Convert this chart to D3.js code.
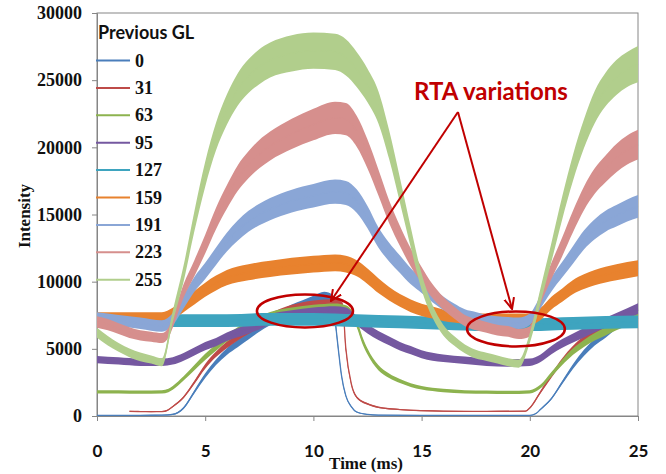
<!DOCTYPE html>
<html>
<head>
  <title>Previous GL response</title>
  <script src="https://d3js.org/d3.v7.min.js"></script>
  <style>
    body { margin: 0; background: #fff; }
  </style>
</head>
<body>

<script>
// Time axis ticks (ms) and intensity ticks
var xTicks = [0, 5, 10, 15, 20, 25];
var yTicks = [0, 5000, 10000, 15000, 20000, 25000, 30000];

// Legend entries (previous grey level)
var levels = ["0", "31", "63", "95", "127", "159", "191", "223", "255"];
var colors = ["#4a7ebb", "#be4b48", "#8db34f", "#7558a0", "#3ea4bf", "#e8822e", "#8aa6d6", "#d68f8d", "#b1ce8c"];

// Each point: [time ms, mean intensity, noise band height]
var gl0 = [[0,50,60],[1,50,60],[2,50,60],[3,60,60],[3.5,120,80],[4,600,150],[4.5,1800,250],[5,3000,350],[5.5,4000,420],[6,4800,500],[6.5,5400,550],[7,6000,600],[7.5,6600,650],[8,7100,700],[8.5,7500,750],[9,7900,800],[9.5,8200,850],[10,8500,900],[10.5,8800,900],[10.9,8600,850],[11,7200,600],[11.15,5000,400],[11.3,3000,250],[11.5,1500,150],[11.75,700,100],[12,300,80],[12.5,120,60],[13,60,60],[15,50,60],[18,50,60],[20,50,60],[20.3,200,60],[20.5,500,80],[21,1300,150],[21.5,2500,250],[22,3700,350],[22.5,4700,450],[23,5500,500],[23.5,6100,550],[24,6800,600],[24.5,7400,650],[25,7900,700]];
var gl31 = [[1.5,350,80],[2,330,80],[2.5,320,80],[3,330,80],[3.25,420,80],[3.5,700,100],[4,1400,150],[4.5,2500,250],[5,3700,350],[5.5,4600,420],[6,5300,500],[6.5,5900,550],[7,6400,600],[7.5,6900,650],[8,7300,700],[9,7900,750],[10,8200,800],[11,8300,800],[11.35,8100,700],[11.5,5000,400],[11.75,2400,200],[12,1400,150],[12.5,900,120],[13,650,100],[14,480,80],[15,400,80],[16,360,80],[18,340,80],[19.8,360,80],[20,600,100],[20.5,1800,200],[21,3000,300],[21.5,4100,400],[22,5000,450],[22.5,5700,500],[23,6300,550],[23.5,6800,600],[24,7200,650],[24.5,7600,700],[25,7900,700]];
var gl63 = [[0,1800,250],[1,1800,250],[2,1780,250],[3,1800,250],[3.3,1900,250],[3.5,2100,280],[4,2800,320],[4.5,3600,380],[5,4400,450],[5.5,5100,500],[6,5800,550],[6.5,6300,600],[7,6800,650],[7.5,7100,700],[8,7400,700],[9,7700,750],[10,7900,750],[11,8000,750],[11.5,7900,700],[11.75,7600,650],[12,6900,600],[12.25,5700,520],[12.5,4800,450],[13,3600,380],[13.5,3000,330],[14,2600,300],[14.5,2300,280],[15,2100,260],[16,1900,250],[17,1800,250],[18,1780,250],[19,1760,250],[20,1800,250],[20.5,2200,280],[21,3100,350],[21.5,4000,420],[22,4800,480],[22.5,5400,520],[23,5900,560],[23.5,6300,600],[24,6700,620],[24.5,7000,650],[25,7300,650]];
var gl95 = [[0,4200,550],[1,4100,550],[2,4000,550],[3,4000,550],[3.5,4100,550],[4,4400,570],[4.5,4800,590],[5,5200,610],[5.5,5500,630],[6,5900,650],[6.5,6200,670],[7,6500,700],[7.5,6800,720],[8,7200,750],[9,7500,750],[10,7700,750],[11,7800,750],[11.5,7700,750],[12,7100,720],[12.5,6500,700],[13,6000,670],[13.5,5600,650],[14,5200,630],[14.5,4900,610],[15,4600,590],[16,4300,570],[17,4150,550],[18,4000,550],[19,3950,550],[20,4000,550],[20.5,4300,570],[21,4900,610],[21.5,5400,650],[22,5800,670],[22.5,6200,700],[23,6600,720],[24,7300,750],[25,8000,800]];
var gl127 = [[0,7200,950],[2,7100,950],[4,7100,950],[6,7100,950],[8,7200,950],[10,7200,950],[12,7100,950],[14,7000,950],[16,6900,950],[18,6800,950],[20,6800,950],[22,6900,950],[25,7000,950]];
var gl159 = [[0,7300,850],[1,7300,850],[2,7300,850],[3,7300,850],[3.5,7600,900],[4,8200,950],[4.5,8800,1000],[5,9400,1050],[5.5,9900,1100],[6,10300,1150],[7,10700,1200],[8,10950,1200],[9,11150,1250],[10,11300,1250],[11,11400,1250],[11.5,11300,1250],[12,11000,1200],[12.5,10400,1150],[13,9700,1100],[13.5,9100,1000],[14,8600,950],[14.5,8200,950],[15,7900,900],[15.5,7700,900],[16,7500,850],[17,7300,850],[18,7200,850],[19,7200,850],[20,7200,850],[20.5,7600,900],[21,8400,950],[21.5,9000,1000],[22,9600,1050],[22.5,10000,1100],[23,10300,1150],[24,10700,1200],[25,11000,1200]];
var gl191 = [[0,7300,850],[1,7100,850],[2,6900,850],[3,6700,850],[3.5,7200,900],[4,8500,1000],[4.5,9800,1100],[5,10800,1200],[5.5,11900,1300],[6,12950,1400],[6.5,13800,1500],[7,14500,1550],[7.5,15000,1600],[8,15400,1650],[9,16000,1700],[10,16400,1750],[11,16700,1800],[11.5,16600,1800],[12,16000,1750],[12.5,14800,1650],[13,13300,1500],[13.5,12200,1400],[14,11300,1300],[14.5,10400,1200],[15,9700,1100],[15.5,9000,1050],[16,8400,1000],[16.5,7900,950],[17,7500,900],[17.5,7300,900],[18,7100,850],[19,6950,850],[19.5,6900,850],[20,7200,850],[20.5,8500,950],[21,9800,1050],[21.5,10900,1150],[22,12000,1300],[22.5,13100,1400],[23,13900,1500],[23.5,14500,1550],[24,14900,1600],[24.5,15300,1650],[25,15600,1700]];
var gl223 = [[0,7000,850],[0.5,6800,850],[1,6500,800],[1.5,6200,800],[2,6000,750],[2.5,5900,750],[3,5800,750],[3.3,6200,750],[3.5,7000,850],[4,9300,1000],[4.5,11000,1200],[5,12800,1400],[5.5,14700,1600],[6,16300,1750],[6.5,17700,1900],[7,18700,2000],[7.5,19500,2100],[8,20100,2150],[9,21000,2250],[10,21700,2350],[11,22200,2400],[11.5,22100,2400],[12,21200,2300],[12.5,19500,2150],[13,17400,1950],[13.5,15200,1700],[14,13400,1500],[14.5,11800,1350],[15,10500,1200],[15.5,9300,1050],[16,8400,950],[16.5,7700,900],[17,7100,850],[17.5,6800,850],[18,6600,800],[18.5,6400,800],[19,6300,800],[19.5,6100,750],[20,6300,750],[20.5,8800,950],[21,10800,1200],[21.5,12600,1400],[22,14500,1600],[22.5,16200,1750],[23,17500,1900],[23.5,18400,2000],[24,19200,2100],[24.5,19800,2150],[25,20200,2200]];
var gl255 = [[0,6200,750],[0.5,5600,700],[1,5100,650],[1.5,4700,650],[2,4400,650],[2.5,4200,600],[3,4000,600],[3.5,7400,850],[4,10600,1200],[4.5,14500,1500],[5,18000,1850],[5.5,20800,2050],[6,22800,2250],[6.5,24300,2400],[7,25300,2500],[7.5,26000,2600],[8,26500,2600],[9,27000,2700],[10,27200,2700],[11,27100,2700],[11.5,26700,2700],[12,25800,2600],[12.5,24600,2500],[13,23000,2400],[13.5,20200,2150],[14,16800,1850],[14.5,13300,1500],[15,10000,1200],[15.5,7800,950],[16,6400,800],[16.5,5600,700],[17,5000,650],[17.5,4600,650],[18,4400,600],[18.5,4200,600],[19,4000,600],[19.5,3900,600],[20,5800,750],[20.5,9000,1100],[21,12200,1400],[21.5,15500,1700],[22,18500,1950],[22.5,21000,2150],[23,23000,2400],[23.5,24300,2500],[24,25200,2600],[24.5,25800,2600],[25,26200,2700]];

var series = [gl0, gl31, gl63, gl95, gl127, gl159, gl191, gl223, gl255];

// Annotation anchors in data units [time, intensity]
var calloutApex = [16.68, 22630];
var calloutTips = [[10.81, 8560], [19.18, 7965]];
var ellipses = [{ c: [9.61, 7820], rx: 2.22, ry: 1230 }, { c: [19.36, 6480], rx: 2.26, ry: 1300 }];

// SVG size
var margin = { top: 13, right: 28, bottom: 58, left: 97 },
    width = 666 - margin.left - margin.right,
    height = 474 - margin.top - margin.bottom;

var x = d3.scaleLinear().domain([0, 25]).range([0, width]);
var y = d3.scaleLinear().domain([0, 30000]).range([height, 0]);

var svg = d3.select("body").append("svg")
    .attr("width", 666)
    .attr("height", 474)
    .style("background", "#fff");

var defs = svg.append("defs");
defs.append("clipPath").attr("id", "plotclip")
  .append("rect").attr("width", width + 1).attr("height", height);

defs.append("marker")
    .attr("id", "arrow")
    .attr("viewBox", "0 -6 12 12")
    .attr("refX", 11).attr("refY", 0)
    .attr("markerWidth", 12).attr("markerHeight", 12)
    .attr("markerUnits", "userSpaceOnUse")
    .attr("orient", "auto")
  .append("path")
    .attr("d", "M0,-5L11,0L0,5")
    .attr("fill", "none")
    .attr("stroke", "#c00000")
    .attr("stroke-width", 2);

var g = svg.append("g")
    .attr("transform", "translate(" + margin.left + "," + margin.top + ")");

// plot border
g.append("rect")
    .attr("width", width)
    .attr("height", height)
    .attr("fill", "none")
    .attr("stroke", "#868686");

// Y axis
var yAxis = g.append("g")
    .call(d3.axisLeft(y).tickValues(yTicks).tickSize(5).tickPadding(10).tickFormat(d3.format("d")));
yAxis.selectAll("text")
    .attr("font-family", "'Liberation Serif', serif")
    .attr("font-weight", "bold")
    .attr("font-size", "18px")
    .attr("fill", "#111");

// X axis
var xAxis = g.append("g")
    .attr("transform", "translate(0," + height + ")")
    .call(d3.axisBottom(x).tickValues(xTicks).tickSize(5).tickPadding(24));
xAxis.selectAll("text")
    .attr("font-family", "Lato, sans-serif")
    .attr("font-weight", "bold")
    .attr("font-size", "17px")
    .attr("fill", "#111");

g.selectAll(".domain, .tick line").attr("stroke", "#868686");

// noise bands and lines
var band = d3.area()
    .curve(d3.curveMonotoneX)
    .x(function(d) { return x(d[0]); })
    .y0(function(d) { return y(d[1] - d[2] / 2); })
    .y1(function(d) { return y(d[1] + d[2] / 2); });

var line = d3.line()
    .curve(d3.curveMonotoneX)
    .x(function(d) { return x(d[0]); })
    .y(function(d) { return y(d[1]); });

var plot = g.append("g").attr("clip-path", "url(#plotclip)");

series.forEach(function(s, i) {
  plot.append("path")
      .datum(s)
      .attr("d", band)
      .attr("fill", colors[i]);
  plot.append("path")
      .datum(s)
      .attr("d", line)
      .attr("fill", "none")
      .attr("stroke", colors[i])
      .attr("stroke-width", 1.3);
});

// legend
var legend = g.append("g");
legend.append("text")
    .attr("x", 1)
    .attr("y", 25.5)
    .attr("font-family", "Lato, sans-serif")
    .attr("font-weight", "bold")
    .attr("font-size", "18px")
    .attr("fill", "#111")
    .text("Previous GL");

var rows = legend.selectAll(".row")
    .data(levels)
  .enter().append("g")
    .attr("class", "row")
    .attr("transform", function(d, i) { return "translate(0," + (47.5 + i * 27.4) + ")"; });

rows.append("line")
    .attr("x1", -1).attr("x2", 33)
    .attr("stroke", function(d, i) { return colors[i]; })
    .attr("stroke-width", 2);

rows.append("text")
    .attr("x", 38)
    .attr("dy", "0.34em")
    .attr("font-family", "'Liberation Serif', serif")
    .attr("font-weight", "bold")
    .attr("font-size", "18px")
    .attr("fill", "#111")
    .text(function(d) { return d; });

// axis titles
svg.append("text")
    .attr("x", 366)
    .attr("y", 469)
    .attr("text-anchor", "middle")
    .attr("font-family", "'Liberation Serif', serif")
    .attr("font-weight", "bold")
    .attr("font-size", "17px")
    .attr("fill", "#111")
    .text("Time (ms)");

svg.append("text")
    .attr("transform", "translate(30,216) rotate(-90)")
    .attr("text-anchor", "middle")
    .attr("font-family", "'Liberation Serif', serif")
    .attr("font-weight", "bold")
    .attr("font-size", "17px")
    .attr("fill", "#111")
    .text("Intensity");

// RTA annotation
var ann = g.append("g");
ellipses.forEach(function(e) {
  ann.append("ellipse")
      .attr("cx", x(e.c[0]))
      .attr("cy", y(e.c[1]))
      .attr("rx", x(e.rx) - x(0))
      .attr("ry", y(0) - y(e.ry))
      .attr("fill", "none")
      .attr("stroke", "#c00000")
      .attr("stroke-width", 2.5);
});

calloutTips.forEach(function(t) {
  ann.append("line")
      .attr("x1", x(calloutApex[0])).attr("y1", y(calloutApex[1]))
      .attr("x2", x(t[0])).attr("y2", y(t[1]))
      .attr("stroke", "#c00000")
      .attr("stroke-width", 2)
      .attr("marker-end", "url(#arrow)");
});

ann.append("text")
    .attr("x", x(calloutApex[0]) + 33)
    .attr("y", y(calloutApex[1]) - 12)
    .attr("text-anchor", "middle")
    .attr("font-family", "Lato, sans-serif")
    .attr("font-weight", "bold")
    .attr("font-size", "24px")
    .attr("fill", "#c00000")
    .text("RTA variations");
</script>

</body>
</html>
